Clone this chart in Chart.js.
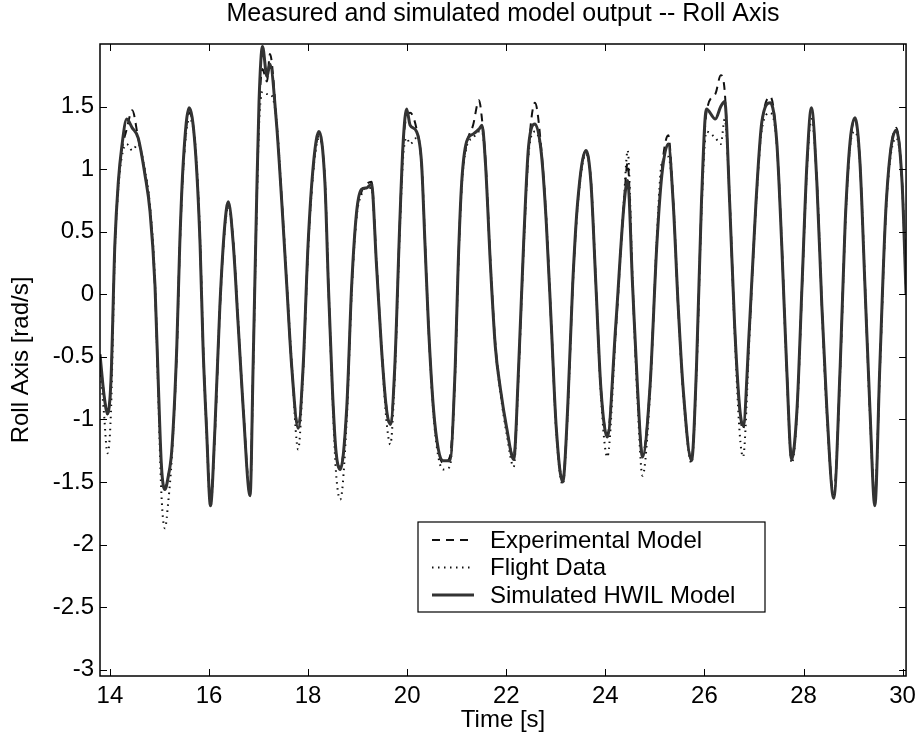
<!DOCTYPE html>
<html>
<head>
<meta charset="utf-8">
<script src="https://cdn.jsdelivr.net/npm/chart.js@4.4.1/dist/chart.umd.min.js"></script>
<style>
  html, body { margin: 0; padding: 0; background: #fff; }
</style>
</head>
<body>
<canvas id="rollChart" width="922" height="738"></canvas>
<script>
// time [s] and the three roll-rate traces [rad/s]
const time = [13.80, 13.88, 13.95, 14.02, 14.10, 14.17, 14.24, 14.34, 14.45, 14.57, 14.71, 14.81, 14.91, 14.98,
  15.04, 15.11, 15.18, 15.25, 15.35, 15.41, 15.48, 15.60, 15.72, 15.82, 15.88, 15.95, 16.03, 16.12, 16.22, 16.32,
  16.39, 16.49, 16.59, 16.69, 16.83, 16.89, 16.96, 17.01, 17.08, 17.17, 17.23, 17.36, 17.47, 17.57, 17.67, 17.80,
  17.90, 18.00, 18.11, 18.22, 18.34, 18.41, 18.49, 18.56, 18.65, 18.78, 18.88, 18.98, 19.08, 19.18, 19.28, 19.38,
  19.48, 19.58, 19.66, 19.75, 19.85, 19.92, 19.99, 20.06, 20.19, 20.29, 20.36, 20.43, 20.53, 20.63, 20.73, 20.86,
  20.97, 21.03, 21.10, 21.20, 21.33, 21.45, 21.51, 21.58, 21.68, 21.78, 21.88, 22.01, 22.15, 22.25, 22.35, 22.45,
  22.58, 22.71, 22.81, 22.91, 23.01, 23.14, 23.24, 23.34, 23.44, 23.61, 23.71, 23.81, 23.91, 24.04, 24.21, 24.38,
  24.45, 24.55, 24.65, 24.75, 24.90, 25.04, 25.14, 25.27, 25.37, 25.47, 25.57, 25.74, 25.84, 25.94, 26.04, 26.22,
  26.33, 26.41, 26.51, 26.61, 26.71, 26.78, 26.91, 27.04, 27.16, 27.33, 27.46, 27.56, 27.66, 27.76, 27.87, 27.97,
  28.07, 28.16, 28.27, 28.37, 28.47, 28.61, 28.74, 28.84, 28.94, 29.04, 29.14, 29.24, 29.34, 29.44, 29.54, 29.67,
  29.87, 29.99, 30.07];

const hwilModel = [-0.48, -0.80, -0.95, -0.70, 0.40, 0.90, 1.18, 1.40, 1.33, 1.25, 0.95, 0.66, 0.07, -0.75,
  -1.37, -1.56, -1.45, -1.24, -0.42, 0.40, 1.05, 1.49, 1.18, 0.40, -0.42, -1.07, -1.69, -1.07, -0.09, 0.56,
  0.74, 0.40, -0.25, -0.91, -1.61, -0.58, 0.73, 1.54, 1.98, 1.74, 1.84, 1.38, 0.73, 0.07, -0.58, -1.07,
  -0.58, 0.40, 1.05, 1.30, 0.89, 0.07, -0.75, -1.24, -1.40, -0.91, 0.07, 0.66, 0.84, 0.85, 0.88, 0.24,
  -0.42, -0.91, -1.04, -0.58, 0.56, 1.22, 1.48, 1.35, 1.30, 1.05, 0.40, -0.25, -0.91, -1.24, -1.33, -1.33,
  -0.58, 0.24, 0.89, 1.22, 1.28, 1.32, 1.35, 1.05, 0.24, -0.42, -0.75, -1.07, -1.32, -0.58, 0.40, 1.18,
  1.36, 1.12, 0.56, -0.25, -1.07, -1.50, -0.91, 0.07, 0.73, 1.15, 0.89, 0.07, -0.75, -1.14, -0.25, 0.73,
  0.91, 0.07, -0.75, -1.30, -0.75, 0.40, 0.95, 1.20, 0.73, -0.09, -0.75, -1.33, -0.58, 0.73, 1.48, 1.40,
  1.50, 1.54, 0.73, -0.25, -0.90, -1.05, -0.25, 0.73, 1.38, 1.53, 1.22, 0.40, -0.58, -1.32, -0.91, 0.07,
  1.05, 1.49, 0.89, -0.09, -0.91, -1.63, -0.58, 0.56, 1.22, 1.41, 1.05, 0.07, -0.91, -1.69, -0.58, 0.73,
  1.31, 0.89, 0.00];

const expModel = [-0.50, -0.80, -0.96, -0.72, 0.38, 0.88, 1.15, 1.32, 1.47, 1.25, 0.97, 0.68, 0.05, -0.78,
  -1.40, -1.55, -1.45, -1.25, -0.45, 0.38, 1.02, 1.45, 1.20, 0.42, -0.40, -1.05, -1.65, -1.10, -0.12, 0.55,
  0.72, 0.42, -0.25, -0.90, -1.58, -0.60, 0.70, 1.45, 1.80, 1.70, 1.92, 1.40, 0.75, 0.08, -0.58, -1.05,
  -0.60, 0.38, 1.03, 1.27, 0.90, 0.08, -0.75, -1.25, -1.38, -0.92, 0.05, 0.65, 0.82, 0.88, 0.90, 0.26,
  -0.40, -0.90, -1.05, -0.60, 0.55, 1.20, 1.42, 1.45, 1.32, 1.05, 0.42, -0.25, -0.92, -1.25, -1.35, -1.30,
  -0.60, 0.22, 0.88, 1.20, 1.35, 1.55, 1.40, 1.08, 0.26, -0.40, -0.75, -1.08, -1.30, -0.60, 0.38, 1.15,
  1.53, 1.15, 0.58, -0.25, -1.08, -1.48, -0.92, 0.05, 0.72, 1.15, 0.90, 0.08, -0.75, -1.12, -0.28, 0.75,
  1.05, 0.08, -0.78, -1.28, -0.75, 0.42, 1.00, 1.27, 0.75, -0.10, -0.75, -1.32, -0.60, 0.70, 1.45, 1.60,
  1.75, 1.62, 0.75, -0.25, -0.92, -1.08, -0.28, 0.72, 1.36, 1.58, 1.22, 0.42, -0.58, -1.30, -0.92, 0.05,
  1.03, 1.47, 0.90, -0.08, -0.92, -1.60, -0.60, 0.55, 1.20, 1.40, 1.05, 0.08, -0.92, -1.65, -0.60, 0.72,
  1.33, 0.90, 0.05];

const flightData = [-0.55, -0.95, -1.27, -0.95, 0.35, 0.85, 1.10, 1.20, 1.15, 1.20, 0.98, 0.70, 0.10, -0.85,
  -1.60, -1.87, -1.65, -1.30, -0.45, 0.38, 1.00, 1.40, 1.20, 0.45, -0.40, -1.10, -1.70, -1.10, -0.10, 0.52,
  0.70, 0.42, -0.22, -0.90, -1.60, -0.62, 0.65, 1.35, 1.62, 1.60, 1.60, 1.40, 0.75, 0.10, -0.55, -1.24,
  -0.62, 0.35, 1.00, 1.25, 0.92, 0.10, -0.78, -1.40, -1.64, -1.00, 0.02, 0.62, 0.80, 0.85, 0.85, 0.25,
  -0.42, -1.00, -1.20, -0.65, 0.50, 1.10, 1.25, 1.20, 1.25, 1.05, 0.42, -0.25, -0.95, -1.30, -1.40, -1.38,
  -0.62, 0.20, 0.85, 1.18, 1.25, 1.30, 1.30, 1.05, 0.25, -0.42, -0.78, -1.12, -1.38, -0.62, 0.35, 1.12,
  1.30, 1.12, 0.58, -0.25, -1.10, -1.52, -0.95, 0.05, 0.70, 1.12, 0.90, 0.08, -0.80, -1.30, -0.30, 0.78,
  1.15, 0.10, -0.85, -1.45, -0.80, 0.45, 1.05, 1.10, 0.75, -0.08, -0.78, -1.35, -0.62, 0.65, 1.30, 1.25,
  1.20, 1.40, 0.75, -0.30, -1.10, -1.30, -0.32, 0.70, 1.32, 1.45, 1.20, 0.42, -0.60, -1.35, -0.95, 0.05,
  1.00, 1.40, 0.90, -0.08, -0.95, -1.62, -0.62, 0.52, 1.18, 1.30, 1.05, 0.10, -0.95, -1.62, -0.62, 0.70,
  1.25, 0.90, 0.05];

const xTicks = [14, 16, 18, 20, 22, 24, 26, 28, 30];
const yTicks = [-3, -2.5, -2, -1.5, -1, -0.5, 0, 0.5, 1, 1.5];
const seriesNames = ["Experimental Model", "Flight Data", "Simulated HWIL Model"];
const chartTitle = "Measured and simulated model output -- Roll Axis";

const FONT = "'Liberation Sans', Arial, Helvetica, sans-serif";

function toPoints(values) {
  return time.map((t, i) => ({ x: t, y: values[i] }));
}

// MATLAB style box with inward tick marks, title centred over the axes
const axesBox = {
  id: "axesBox",
  afterDatasetsDraw(chart) {
    const { ctx, chartArea: a, scales: { x, y } } = chart;
    const len = 7;
    ctx.save();
    ctx.strokeStyle = "#000";
    ctx.lineWidth = 1;
    ctx.beginPath();
    xTicks.forEach(v => {
      const px = Math.round(x.getPixelForValue(v)) + 0.5;
      ctx.moveTo(px, a.bottom); ctx.lineTo(px, a.bottom - len);
      ctx.moveTo(px, a.top); ctx.lineTo(px, a.top + len);
    });
    yTicks.forEach(v => {
      const py = Math.round(y.getPixelForValue(v)) + 0.5;
      ctx.moveTo(a.left, py); ctx.lineTo(a.left + len, py);
      ctx.moveTo(a.right, py); ctx.lineTo(a.right - len, py);
    });
    ctx.stroke();
    ctx.lineWidth = 1.5;
    ctx.strokeRect(a.left, a.top, a.right - a.left, a.bottom - a.top);

    ctx.fillStyle = "#000";
    ctx.font = "25px " + FONT;
    ctx.textAlign = "center";
    ctx.textBaseline = "alphabetic";
    ctx.fillText(chartTitle, (a.left + a.right) / 2, 21);
    ctx.restore();
  }
};

// legend box inside the axes, lower middle
const boxLegend = {
  id: "boxLegend",
  afterDraw(chart) {
    const { ctx, chartArea: a } = chart;
    const left = a.left + 318, top = a.top + 478, w = 347, h = 90;
    ctx.save();
    ctx.fillStyle = "#fff";
    ctx.fillRect(left, top, w, h);
    ctx.strokeStyle = "#000";
    ctx.lineWidth = 1.2;
    ctx.strokeRect(left, top, w, h);
    ctx.font = "24px " + FONT;
    ctx.textBaseline = "middle";
    ctx.fillStyle = "#000";
    chart.data.datasets.forEach((ds, i) => {
      const yy = top + 18 + i * 27.5;
      ctx.beginPath();
      ctx.setLineDash(ds.borderDash || []);
      ctx.lineWidth = ds.borderWidth;
      ctx.strokeStyle = ds.borderColor;
      ctx.moveTo(left + 14, yy);
      ctx.lineTo(left + 56, yy);
      ctx.stroke();
      ctx.setLineDash([]);
      ctx.fillText(ds.label, left + 72, yy + 1);
    });
    ctx.restore();
  }
};

const ctx = document.getElementById("rollChart").getContext("2d");
new Chart(ctx, {
  type: "line",
  data: {
    datasets: [
      {
        label: seriesNames[0],
        data: toPoints(expModel),
        borderColor: "#111",
        borderWidth: 2,
        borderDash: [8, 6],
        pointRadius: 0,
        cubicInterpolationMode: "monotone",
        order: 1,
      },
      {
        label: seriesNames[1],
        data: toPoints(flightData),
        borderColor: "#111",
        borderWidth: 2,
        borderDash: [1.5, 4.5],
        pointRadius: 0,
        cubicInterpolationMode: "monotone",
        order: 2,
      },
      {
        label: seriesNames[2],
        data: toPoints(hwilModel),
        borderColor: "#333",
        borderWidth: 3,
        pointRadius: 0,
        cubicInterpolationMode: "monotone",
        order: 0,
      },
    ],
  },
  options: {
    responsive: false,
    animation: false,
    layout: { padding: { top: 44, right: 15 } },
    plugins: {
      legend: { display: false },
      tooltip: { enabled: false },
      title: { display: false },
    },
    scales: {
      x: {
        type: "linear",
        min: 13.8,
        max: 30.07,
        grid: { display: false, drawTicks: false },
        border: { display: false },
        afterBuildTicks: s => { s.ticks = xTicks.map(v => ({ value: v })); },
        afterFit: s => { s.height = 62; },
        ticks: {
          color: "#000",
          font: { family: FONT, size: 24 },
          padding: 6,
          maxRotation: 0,
          autoSkip: false,
          callback: v => String(v),
        },
        title: {
          display: true,
          text: "Time [s]",
          color: "#000",
          font: { family: FONT, size: 24 },
          padding: { top: 0, bottom: 3 },
        },
      },
      y: {
        type: "linear",
        min: -3.05,
        max: 2.0,
        grid: { display: false, drawTicks: false },
        border: { display: false },
        afterBuildTicks: s => { s.ticks = yTicks.map(v => ({ value: v })); },
        afterFit: s => { s.width = 100; },
        ticks: {
          color: "#000",
          font: { family: FONT, size: 24 },
          padding: 6,
          autoSkip: false,
          callback: v => String(v),
        },
        title: {
          display: true,
          text: "Roll Axis [rad/s]",
          color: "#000",
          font: { family: FONT, size: 24 },
          padding: { top: 7, bottom: 0 },
        },
      },
    },
  },
  plugins: [axesBox, boxLegend],
});
</script>
</body>
</html>
